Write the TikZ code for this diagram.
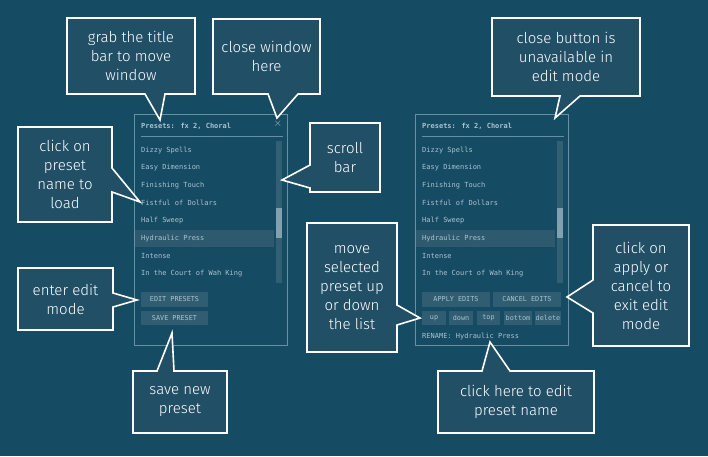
\documentclass[tikz,border=0pt]{standalone}
\usepackage{fontspec}
\setmainfont{Fira Sans Light}[BoldFont=Fira Sans]
\newfontfamily\pixfont{DejaVu Sans Mono}
\usetikzlibrary{positioning}
\definecolor{bgteal}{RGB}{21,75,99}
\definecolor{callfill}{RGB}{33,79,102}
\definecolor{winline}{RGB}{104,142,160}
\definecolor{rowhl}{RGB}{46,90,111}
\definecolor{btnfill}{RGB}{48,93,114}
\definecolor{uitext}{RGB}{170,195,207}
\definecolor{scrolltrk}{RGB}{50,95,116}
\definecolor{scrollthm}{RGB}{130,160,175}
\tikzset{
  callout/.style={draw=white, line width=1.6pt, fill=callfill, line join=miter},
  calltext/.style={text=white, align=center, font=\fontsize{15}{19}\selectfont},
  uilabel/.style={text=uitext, anchor=west, inner sep=0pt, font=\pixfont\fontsize{7}{8}\selectfont},
  btn/.style={fill=btnfill, text=uitext, inner sep=0pt, font=\pixfont\fontsize{6.8}{8}\selectfont},
}
\newcommand{\presetwin}[2]{% #1 x shift, #2 name prefix
  \begin{scope}[xshift=#1]
    \draw[winline, line width=0.8pt] (134,114) rectangle (287,345);
    \node[uilabel, font=\pixfont\bfseries\fontsize{7}{8}\selectfont] (#2title) at (141,126) {Presets: fx 2, Choral};
    \draw[winline, line width=0.6pt] (141,136) -- (283,136);
    \fill[rowhl] (135,230) rectangle (274,247);
    \fill[scrolltrk] (276,141) rectangle (282,283);
    \fill[scrollthm] (276,208) rectangle (282,238);
    \foreach \name [count=\i] in {Dizzy Spells, Easy Dimension, Finishing Touch,
        Fistful of Dollars, Half Sweep, Hydraulic Press, Intense, In the Court of Wah King}
      \node[uilabel] (#2item\i) at (141,{132.5+17.6*\i}) {\name};
  \end{scope}}
\begin{document}
\begin{tikzpicture}[x=1pt, y=-1pt]
\useasboundingbox[fill=bgteal] (0,0) rectangle (708,456);

% left window
\presetwin{0}{l}
\node[text=uitext, font=\fontsize{11}{11}\selectfont, inner sep=0pt] (lclose) at (278,124) {$\times$};
\node[btn, minimum width=67pt, minimum height=15pt] (editbtn) at (174.5,299.5) {EDIT PRESETS};
\node[btn, minimum width=67pt, minimum height=14pt] (savebtn) at (174.5,318) {SAVE PRESET};

% right window (edit mode)
\presetwin{281}{r}
\node[btn, minimum width=68pt, minimum height=15pt] (applybtn) at (456,299.5) {APPLY EDITS};
\node[btn, minimum width=68pt, minimum height=15pt] (cancelbtn) at (527,299.5) {CANCEL EDITS};
\foreach \lbl/\cx/\w [count=\j] in {up/434/24, down/461/24, top/488.5/23, bottom/518/28, delete/548/26}
  \node[btn, minimum width=\w pt, minimum height=14pt] (mv\j) at (\cx,318) {\lbl};
\node[uilabel] (rename) at (422,337) {RENAME: Hydraulic Press};

% callouts
\draw[callout] (67,18) -- (195,18) -- (195,94) -- (165,94) -- (160,120) -- (145,94) -- (67,94) -- cycle;
\node[calltext] (grab) at (131,56) {grab the title\\bar to move\\window};
\draw[callout] (213,19) -- (320,19) -- (320,94) -- (298,94) -- (277,118) -- (268,94) -- (213,94) -- cycle;
\node[calltext] (closew) at (266.5,56) {close window\\here};
\draw[callout] (18,127) -- (112,127) -- (112,168) -- (140,202) -- (112,192) -- (112,222) -- (18,222) -- cycle;
\node[calltext] (clickload) at (65,174.5) {click on\\preset\\name to\\load};
\draw[callout] (310,123) -- (380,123) -- (380,192) -- (310,192) -- (310,188) -- (282,180) -- (310,165) -- cycle;
\node[calltext] (scroll) at (345,157.5) {scroll\\bar};
\draw[callout] (18,268) -- (113,268) -- (113,293) -- (137,300) -- (113,307) -- (113,330) -- (18,330) -- cycle;
\node[calltext] (editmode) at (65.5,299) {enter edit\\mode};
\draw[callout] (133,371) -- (157,371) -- (172,333) -- (174,371) -- (227,371) -- (227,433) -- (133,433) -- cycle;
\node[calltext] (savenew) at (180,402) {save new\\preset};
\draw[callout] (492,18) -- (640,18) -- (640,96) -- (580,96) -- (555,118) -- (560,96) -- (492,96) -- cycle;
\node[calltext] (closeun) at (566,57) {close button is\\unavailable in\\edit mode};
\draw[callout] (307,223) -- (397,223) -- (397,305) -- (420,318) -- (397,325) -- (397,352) -- (307,352) -- cycle;
\node[calltext] (moveup) at (352,287.5) {move\\selected\\preset up\\or down\\the list};
\draw[callout] (593,225) -- (689,225) -- (689,346) -- (593,346) -- (593,313) -- (567,297) -- (593,280) -- cycle;
\node[calltext] (applycancel) at (641,285.5) {click on\\apply or\\cancel to\\exit edit\\mode};
\draw[callout] (438,371) -- (482,371) -- (490,342) -- (510,371) -- (594,371) -- (594,433) -- (438,433) -- cycle;
\node[calltext] (renamecall) at (516,402) {click here to edit\\preset name};
\end{tikzpicture}
\end{document}
